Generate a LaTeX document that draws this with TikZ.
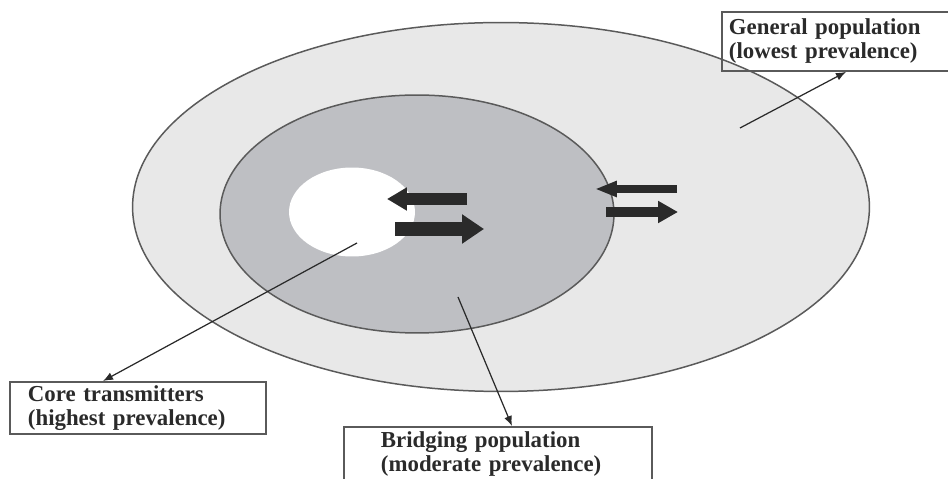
\documentclass[tikz,border=0pt]{standalone}
\usepackage{fontspec}
\setmainfont{Liberation Serif}
\usetikzlibrary{shapes.geometric,arrows.meta}
\definecolor{outergray}{HTML}{E8E8E8}
\definecolor{innergray}{HTML}{BEBFC3}
\definecolor{rimgray}{HTML}{5A5A5A}
\definecolor{inkgray}{HTML}{2A2A2A}

\begin{document}
\begin{tikzpicture}[x=0.02cm, y=-0.02cm,
	zone/.style={ellipse, draw=rimgray, line width=0.85pt},
	label box/.style={draw=rimgray, line width=1.1pt, anchor=north west, align=left, inner ysep=1pt,
		font=\fontsize{13}{13.7}\selectfont\bfseries, text=inkgray},
	pointer/.style={draw=inkgray, line width=0.7pt, -{Latex[length=2mm,width=1.6mm]}},
	flow/.style n args={3}{draw=inkgray, line width=#1, -{Triangle[length=#2,width=#3]}}
	]
	
	\useasboundingbox (0,0) rectangle (948,479);
	\clip (0,0) rectangle (948,479);
	
	% the three populations
	\node [zone, fill=outergray, minimum width=14.74cm, minimum height=7.38cm] (general) at (501,207) {};
	\node [zone, fill=innergray, minimum width=7.88cm, minimum height=4.76cm] (bridging) at (417,214) {};
	\node [ellipse, fill=white, minimum width=2.52cm, minimum height=1.78cm] (core) at (352,212) {};
	
	% flows between the groups
	\draw [flow={0.24cm}{0.4cm}{0.44cm}] (467,199) -- (387,199);
	\draw [flow={0.28cm}{0.44cm}{0.56cm}] (395,229) -- (484,229);
	\draw [flow={0.16cm}{0.44cm}{0.3cm}] (677,189) -- (595,189);
	\draw [flow={0.2cm}{0.4cm}{0.42cm}] (606,212) -- (678,212);
	
	% labels
	\node [label box, minimum width=4.78cm, minimum height=1.18cm, inner xsep=0.14cm, text width=4.5cm]
		(genbox) at (721,11) {General population\\(lowest prevalence)};
	\node [label box, minimum height=1.04cm, inner xsep=0.36cm, text width=4.4cm]
		(corebox) at (9,381) {Core transmitters\\(highest prevalence)};
	\node [label box, minimum height=1.1cm, inner xsep=0.74cm, text width=4.68cm]
		(bridgebox) at (343,426) {Bridging population\\(moderate prevalence)};
	
	\coordinate (genpt) at (740,128);
	\coordinate (corept) at (357,243);
	\coordinate (bridgept) at (458,297);
	
	\draw [pointer] (genpt) -- ([xshift=2.5cm]genbox.south west);
	\draw [pointer] (corept) -- ([xshift=1.88cm]corebox.north west);
	\draw [pointer] (bridgept) -- ([xshift=3.38cm]bridgebox.north west);
\end{tikzpicture}
\end{document}
